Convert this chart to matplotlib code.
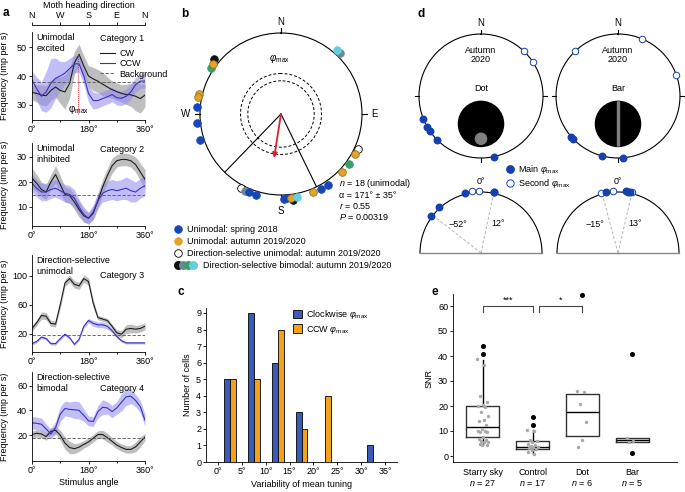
import numpy as np
import matplotlib.pyplot as plt
from matplotlib.patches import Circle, Rectangle

plt.rcParams['font.family'] = ['Liberation Sans', 'DejaVu Sans']
plt.rcParams['font.size'] = 6.5
plt.rcParams['mathtext.fontset'] = 'custom'
plt.rcParams['mathtext.rm'] = 'Liberation Sans'
plt.rcParams['mathtext.it'] = 'Liberation Sans:italic'
plt.rcParams['axes.linewidth'] = 0.6
for a in ('xtick', 'ytick'):
    plt.rcParams[a + '.major.width'] = 0.6
    plt.rcParams[a + '.major.size'] = 2
    plt.rcParams[a + '.minor.width'] = 0.6
    plt.rcParams[a + '.minor.size'] = 1.5
    plt.rcParams[a + '.major.pad'] = 1.5
    plt.rcParams[a + '.labelsize'] = 6.5

W, H = 685, 492
fig = plt.figure(figsize=(W / 100, H / 100), dpi=100)


def box(l, t, r, b):
    return [l / W, 1 - b / H, (r - l) / W, (b - t) / H]


def ptext(x, y, s, **kw):
    fig.text(x / W, 1 - y / H, s, **kw)


PHI = r'$\mathit{φ}_{\mathrm{max}}$'

# ---------------- panel a data ----------------
stim = np.arange(0, 361, 15)
cat1_cw = [34.3, 34.0, 33.4, 33.2, 35.0, 36.2, 35.0, 34.5, 37.5, 44.5, 47.5, 43.5, 40.0,
           39.0, 38.2, 37.2, 36.2, 35.3, 34.6, 34.0, 33.6, 33.5, 33.0, 32.2, 33.4]
cat1_ccw = [38.6, 35.6, 33.0, 34.5, 37.5, 39.2, 40.0, 41.0, 42.6, 44.2, 44.2, 40.0, 34.0,
            31.5, 31.5, 32.2, 32.8, 33.6, 32.5, 32.3, 33.0, 34.5, 37.0, 38.2, 38.3]
cat1_cw_sd = [2.5, 3, 3.5, 3.5, 3.5, 3.5, 4.5, 6, 5, 4, 3.5, 3.5, 3.5, 4, 4, 4, 3.5, 3, 3, 3,
              3.5, 4, 5, 5, 4]
cat1_ccw_sd = [3, 4, 5, 7, 8.5, 7, 5, 4, 3.5, 3, 3, 3, 3, 3, 2.5, 2.5, 2.5, 2.5, 2.5, 2.5,
               2.5, 2.5, 2.5, 2.5, 2.5]
cat2_cw = [21.5, 19.5, 17.0, 16.0, 20.0, 23.0, 19.0, 15.0, 14.5, 12.0, 9.0, 6.5, 5.5, 7.5,
           12.5, 18.0, 22.5, 26.5, 28.5, 29.0, 29.0, 28.5, 27.0, 24.0, 21.0]
cat2_ccw = [19.5, 17.5, 16.0, 16.0, 17.0, 17.5, 16.5, 15.5, 15.0, 13.5, 10.0, 7.0, 5.5, 8.0,
            12.5, 15.5, 16.5, 17.0, 16.5, 17.0, 17.5, 16.5, 16.0, 17.5, 18.5]
cat2_cw_sd = [4, 3.5, 3, 3, 3, 3.5, 3.5, 3, 3, 3, 3, 2.5, 2, 2.5, 3, 3, 3, 3, 2.5, 2.5, 2.5,
              2.5, 3, 3.5, 4]
cat2_ccw_sd = [3.5, 3.5, 3.5, 3.5, 3.5, 3.5, 3.5, 3.5, 3.5, 3.5, 3, 3, 2.5, 3, 3, 3.5, 4, 4,
               4, 4, 4.5, 4.5, 4, 4, 4]
cat3_cw = [27, 35, 45, 44, 34, 33, 60, 90, 96, 88, 86, 96, 92, 62, 42, 40, 38, 30, 21, 19,
           26, 27, 26, 27, 30]
cat3_ccw = [6, 9, 15, 13, 6, 6, 13, 19, 14, 5, 12, 30, 38, 34, 32, 32, 30, 24, 16, 10, 7, 7,
            7, 7, 7]
cat3_cw_sd = [4, 4, 5, 5, 4, 4, 5, 5, 5, 5, 5, 5, 5, 5, 3, 3, 3, 3, 4, 5, 6, 6, 5, 5, 5]
cat3_ccw_sd = [2, 2, 2, 2, 2, 2, 2, 2, 2, 2, 2, 3, 3, 4, 4, 4, 4, 3, 2, 2, 1.5, 1.5, 1.5,
               1.5, 1.5]
cat4_cw = [20.5, 21.5, 21, 18.8, 23, 24, 20, 13.5, 10, 9, 10.3, 12.5, 14.5, 17.5, 20.5, 20.5,
           18, 15, 12, 10, 8.5, 8.5, 10.5, 14.5, 18.5]
cat4_ccw = [30, 29.5, 28.8, 25, 21, 26, 37, 41.5, 40.8, 40.5, 40, 36, 31.5, 31, 39, 42.5, 42,
            39, 42, 46.5, 51, 51.5, 48, 43, 32]
cat4_cw_sd = [3, 3, 3, 3, 3, 3, 4, 5, 5, 4, 3.5, 3, 3, 3, 3, 3.5, 3.5, 3, 3, 3, 3, 3, 4, 4, 3]
cat4_ccw_sd = [5, 5, 5, 4, 4, 5, 6, 6, 6, 7, 7, 5, 4, 4, 5, 6, 5, 5, 5, 7, 7, 6, 5, 5, 5]
backgrounds = [38, 15, 18, 17.5]
phi_max_cat1 = 145
categories = ['Category 1', 'Category 2', 'Category 3', 'Category 4']
cell_types = [['Unimodal', 'excited'], ['Unimodal', 'inhibited'],
              ['Direction-selective', 'unimodal'], ['Direction-selective', 'bimodal']]

a_boxes = [(32, 32, 145, 120), (32, 143, 145, 226), (32, 255, 145, 352), (32, 372, 145, 461)]
a_ylims = [(24.8, 55.2), (2.4, 35.6), (-5.6, 128.7), (-0.9, 71)]
a_yticks = [[30, 40, 50], [10, 20, 30], [20, 60, 100], [20, 40, 60]]
a_cat_y = [0.98, 0.98, 0.83, 0.86]
cw_all = [cat1_cw, cat2_cw, cat3_cw, cat4_cw]
ccw_all = [cat1_ccw, cat2_ccw, cat3_ccw, cat4_ccw]
cw_sd_all = [cat1_cw_sd, cat2_cw_sd, cat3_cw_sd, cat4_cw_sd]
ccw_sd_all = [cat1_ccw_sd, cat2_ccw_sd, cat3_ccw_sd, cat4_ccw_sd]

CW_C, CCW_C = '#1e1e1e', '#3a30c0'
for i in range(4):
    ax = fig.add_axes(box(*a_boxes[i]))
    cw, ccw = np.array(cw_all[i]), np.array(ccw_all[i])
    cs, ccs = np.array(cw_sd_all[i]), np.array(ccw_sd_all[i])
    ax.fill_between(stim, cw - cs, cw + cs, color='#a8a8a8', alpha=0.75, lw=0)
    ax.fill_between(stim, ccw - ccs, ccw + ccs, color='#8f8af2', alpha=0.55, lw=0)
    ax.plot(stim, cw, color=CW_C, lw=0.8, label='CW')
    ax.plot(stim, ccw, color=CCW_C, lw=0.8, label='CCW')
    ax.axhline(backgrounds[i], color='#555555', lw=0.6, ls=(0, (4, 2)), label='Background')
    ax.set_xlim(0, 360)
    ax.set_ylim(*a_ylims[i])
    ax.set_yticks(a_yticks[i])
    ax.set_xticks([0, 180, 360], ['0°', '180°', '360°'])
    ax.set_xticks([90, 270], minor=True)
    for s in ('top', 'right'):
        ax.spines[s].set_visible(False)
    ax.set_ylabel('Frequency (imp per s)', fontsize=6.5)
    ax.yaxis.set_label_coords(-0.2, 0.5)
    for k, line in enumerate(cell_types[i]):
        ax.annotate(line, (0.04, 0.99), xycoords='axes fraction', xytext=(0, -8.2 * k),
                    textcoords='offset points', va='top', ha='left')
    ax.text(0.6, a_cat_y[i], categories[i], transform=ax.transAxes, va='top', ha='left')
    if i == 0:
        ax.legend(loc='upper left', bbox_to_anchor=(0.56, 0.86), frameon=False,
                  handlelength=1.7, handletextpad=0.5, labelspacing=0.15, borderpad=0,
                  fontsize=6.5)
        ax.vlines(phi_max_cat1, a_ylims[0][0] + 2, max(cw_all[0]), color='#e0303a',
                  lw=0.7, ls=(0, (1, 1)))
        ax.text(phi_max_cat1 + 2, 30.5, r'φ$_{\mathrm{max}}$', ha='center', va='top',
                fontsize=7)
    if i == 3:
        ax.set_xlabel('Stimulus angle', labelpad=2)

# heading direction axis
axt = fig.add_axes(box(32, 25, 145, 26))
axt.set_xlim(0, 360)
axt.set_yticks([])
axt.xaxis.tick_top()
axt.set_xticks([0, 90, 180, 270, 360], ['N', 'W', 'S', 'E', 'N'])
axt.set_xlabel('Moth heading direction', labelpad=2)
axt.xaxis.set_label_position('top')
for s in ('bottom', 'left', 'right'):
    axt.spines[s].set_visible(False)
axt.patch.set_alpha(0)

# ---------------- panel b data ----------------
b_spring_deg = [85, 96, 108, 158, 163, 182, 184, 208, 213.5]
b_autumn_deg = [54, 76, 78.5, 187, 202, 226.5, 242]
b_dsuni_deg = [152, 245.6]
b_bi_black_deg = [51, 188]
b_bi_gray_deg = [155, 316]
b_bi_green_deg = [56.7, 234]
b_bi_cyan_deg = [191, 319]
b_mean_deg, b_mean_r, b_sd_deg = 171, 0.55, 35

BLUE, ORANGE, GREEN, GRAYB, CYAN = '#1646b8', '#e3a42a', '#3a9e67', '#6e8796', '#62cfdc'

axb = fig.add_axes(box(200, 33, 362, 195), projection='polar')
axb.set_theta_zero_location('N')
axb.set_theta_direction(1)
axb.set_ylim(0, 1)
axb.grid(False)
axb.set_xticks([])
axb.set_yticks([])
axb.spines['polar'].set_linewidth(0.8)
ring = np.linspace(0, 2 * np.pi, 200)
for rr in (0.41, 0.5):
    axb.plot(ring, np.full_like(ring, rr), color='k', lw=0.7, ls=(0, (3, 2)))
for d in (b_mean_deg - b_sd_deg, b_mean_deg + b_sd_deg):
    axb.plot([np.deg2rad(d)] * 2, [0, 1], color='k', lw=0.8)
axb.annotate('', xy=(np.deg2rad(b_mean_deg), b_mean_r), xytext=(0, 0),
             arrowprops=dict(arrowstyle='-|>', color='#d8232f', lw=1.3, mutation_scale=7,
                             shrinkA=0, shrinkB=0))
for d, lab, rl in zip((0, 90, 180, 270), ('N', 'W', 'S', 'E'), (1.13, 1.18, 1.2, 1.16)):
    axb.plot([np.deg2rad(d)] * 2, [1, 1.06], color='k', lw=0.8, clip_on=False)
    axb.text(np.deg2rad(d), rl, lab, ha='center', va='center', fontsize=7)
axb.text(np.deg2rad(2), 0.68, PHI, ha='center', va='center', fontsize=7)


def polar_pts(ax, degs, r, fc, ec, s, z):
    ax.scatter(np.deg2rad(degs), np.full(len(degs), r), s=s, facecolor=fc, edgecolor=ec,
               lw=0.6, clip_on=False, zorder=z)


polar_pts(axb, b_dsuni_deg, 1.04, 'white', 'k', 30, 3)
polar_pts(axb, b_bi_black_deg, 1.07, '#111111', '#111111', 30, 4)
polar_pts(axb, b_bi_gray_deg, 1.05, GRAYB, GRAYB, 30, 4)
polar_pts(axb, b_bi_green_deg, 1.04, GREEN, GREEN, 30, 4)
polar_pts(axb, b_spring_deg, 1.045, BLUE, BLUE, 30, 5)
polar_pts(axb, b_autumn_deg, 1.04, ORANGE, '#9a7020', 30, 6)
polar_pts(axb, b_bi_cyan_deg, 1.05, CYAN, CYAN, 30, 6)

ptext(339, 183, '$n$ = 18 (unimodal)', va='center')
ptext(339, 195, 'α = 171° ± 35°', va='center')
ptext(339, 206, '$r$ = 0.55', va='center')
ptext(339, 217, '$P$ = 0.00319', va='center')

# legend of b, drawn on a full-figure overlay
axo = fig.add_axes([0, 0, 1, 1])
axo.set_xlim(0, W)
axo.set_ylim(H, 0)
axo.axis('off')
axo.patch.set_alpha(0)
leg_rows = [(229, [BLUE], [BLUE], 'Unimodal: spring 2018'),
            (241, [ORANGE], [ORANGE], 'Unimodal: autumn 2019/2020'),
            (253, ['white'], ['k'], 'Direction-selective unimodal: autumn 2019/2020')]
for y, fcs, ecs, lab in leg_rows:
    axo.scatter([178], [y], s=30, facecolor=fcs, edgecolor=ecs, lw=0.6)
    axo.text(187, y, lab, va='center')
for k, c in enumerate(['#111111', GRAYB, GREEN, CYAN]):
    axo.scatter([178 + 5 * k], [265], s=30, facecolor=c, edgecolor=c, zorder=3 + k)
axo.text(203, 265, 'Direction-selective bimodal: autumn 2019/2020', va='center')

# ---------------- panel c data ----------------
c_bins = [2.5, 7.5, 12.5, 17.5, 22.5, 27.5, 32.5]
c_cw = [5, 9, 6, 3, 0, 0, 1]
c_ccw = [5, 5, 8, 2, 4, 0, 0]

axc = fig.add_axes(box(206, 308, 397, 462))
bw = 1.25
axc.bar(np.array(c_bins) - bw / 2, c_cw, width=bw, color='#3a5bb8', edgecolor='k', lw=0.6,
        label='Clockwise ' + PHI)
axc.bar(np.array(c_bins) + bw / 2, c_ccw, width=bw, color='#f3a21c', edgecolor='k', lw=0.6,
        label='CCW ' + PHI)
axc.set_xlim(-2.5, 37.5)
axc.set_ylim(0, 9.3)
axc.set_yticks(range(10))
axc.set_xticks(range(0, 36, 5), [f'{v}°' for v in range(0, 36, 5)])
for s in ('top', 'right'):
    axc.spines[s].set_visible(False)
axc.set_ylabel('Number of cells', labelpad=3)
axc.set_xlabel('Variability of mean tuning', labelpad=3)
axc.legend(loc='upper left', bbox_to_anchor=(0.43, 1.03), frameon=False, handlelength=1.0,
           handleheight=1.0, handletextpad=0.5, labelspacing=0.3, borderpad=0, fontsize=6.5)

# ---------------- panel d data ----------------
d_dot_main = [111.6, 120, 124, 135, 192]
d_dot_second = [303, 316]
d_bar_main = [131, 134, 165, 185]
d_bar_second = [44, 290, 337]
d_dot_rel_main = [-53, -42, -15, 12, 12.5]
d_dot_rel_second = [-8, -2]
d_bar_rel_main = [-11, 7, 9, 11]
d_bar_rel_second = [-16, -5, 13]
d_dot_lims = [-52, 12]
d_bar_lims = [-15, 13]
DBLUE = '#1540b0'

for cx, stim_name, mains, seconds in ((481, 'Dot', d_dot_main, d_dot_second),
                                      (618, 'Bar', d_bar_main, d_bar_second)):
    axd = fig.add_axes(box(cx - 62, 34, cx + 62, 158), projection='polar')
    axd.set_theta_zero_location('N')
    axd.set_theta_direction(1)
    axd.set_ylim(0, 1)
    axd.grid(False)
    axd.set_xticks([])
    axd.set_yticks([])
    axd.spines['polar'].set_linewidth(0.8)
    for d in (0, 90, 180, 270):
        axd.plot([np.deg2rad(d)] * 2, [1, 1.06], color='k', lw=0.8, clip_on=False)
    axd.text(0, 1.17, 'N', ha='center', va='center', fontsize=7)
    axd.text(0.5, 0.83, 'Autumn\n2020', transform=axd.transAxes, ha='center', va='center',
             fontsize=6.5, linespacing=1.1)
    axd.text(0.5, 0.56, stim_name, transform=axd.transAxes, ha='center', va='center',
             fontsize=6.5)
    disk = Circle((0.5, 0.275), 0.182, transform=axd.transAxes, color='k', zorder=2)
    axd.add_artist(disk)
    if stim_name == 'Dot':
        axd.add_artist(Circle((0.5, 0.155), 0.045, transform=axd.transAxes,
                              color='#808080', zorder=3))
    else:
        bar = Rectangle((0.492, 0.09), 0.016, 0.37, transform=axd.transAxes,
                        color='#808080', zorder=3)
        axd.add_artist(bar)
        bar.set_clip_path(disk)
    axd.scatter(np.deg2rad(mains), np.ones(len(mains)), s=22, color=DBLUE, clip_on=False,
                zorder=5)
    axd.scatter(np.deg2rad(seconds), np.ones(len(seconds)), s=22, facecolor='white',
                edgecolor=DBLUE, lw=0.7, clip_on=False, zorder=5)

# half circles: the wedge is drawn at half the axes box, so the box is doubled
for cx, mains, seconds, lims in ((481, d_dot_rel_main, d_dot_rel_second, d_dot_lims),
                                 (618, d_bar_rel_main, d_bar_rel_second, d_bar_lims)):
    axh = fig.add_axes(box(cx - 122, 161.5, cx + 122, 283.5), projection='polar')
    axh.set_theta_zero_location('N')
    axh.set_theta_direction(-1)
    axh.set_thetamin(-90)
    axh.set_thetamax(90)
    axh.set_ylim(0, 1)
    axh.grid(False)
    axh.set_xticks([])
    axh.set_yticks([])
    axh.spines['polar'].set_linewidth(0.8)
    for s in ('start', 'end'):
        axh.spines[s].set_color('#888888')
        axh.spines[s].set_linewidth(1.0)
    axh.spines['inner'].set_visible(False)
    for d in lims:
        axh.plot([np.deg2rad(d)] * 2, [0, 1], color='#b5b5b5', lw=0.7, ls=(0, (3, 2)))
    axh.text(np.deg2rad(-40), 0.6, f'−{abs(lims[0])}°', ha='center', va='center')
    axh.text(np.deg2rad(30), 0.55, f'{lims[1]}°', ha='center', va='center')
    axh.text(0, 1.18, '0°', ha='center', va='center')
    axh.scatter(np.deg2rad(seconds), np.full(len(seconds), 1.02), s=22, facecolor='white',
                edgecolor=DBLUE, lw=0.7, clip_on=False, zorder=5)
    axh.scatter(np.deg2rad(mains), np.full(len(mains), 1.02), s=22, color=DBLUE,
                clip_on=False, zorder=6)

axo.scatter([510], [169], s=28, color=DBLUE)
axo.scatter([510], [183], s=28, facecolor='white', edgecolor=DBLUE, lw=0.7)
axo.text(518, 169, 'Main ' + PHI, va='center')
axo.text(518, 183, 'Second ' + PHI, va='center')

# ---------------- panel e data ----------------
e_labels = ['Starry sky', 'Control', 'Dot', 'Bar']
e_n = [27, 17, 6, 5]
e_q1 = [7.5, 2.8, 8.2, 5.8]
e_med = [11.5, 3.8, 17.5, 6.3]
e_q3 = [20.2, 6.2, 25.0, 7.3]
e_whislo = [4.5, 1.0, 8.2, 5.8]
e_whishi = [38.5, 10.5, 25.0, 7.3]
e_fliers = [[41, 44], [12.3, 15.5], [64.5], [41, 1.3]]
e_points = [[39, 36.5, 24, 21.5, 20.5, 20, 19.5, 17.5, 16, 14.5, 14, 12.5, 11, 10, 10, 9.5,
             9.5, 7.5, 7, 6.5, 6, 5.5, 5.5, 5, 4.5, 4.5],
            [10.5, 10, 6.5, 6, 5.5, 5, 4.5, 4, 3.8, 3.5, 3.2, 3, 2.5, 1.5, 1],
            [26, 25.5, 21, 13.5, 6.5, 3.5],
            [7.3, 6, 5.5]]
e_sig = [(1, 2, '***'), (2.12, 3, '*')]
e_sig_y = 60

axe = fig.add_axes(box(453, 294, 677, 462))
stats = [dict(med=e_med[i], q1=e_q1[i], q3=e_q3[i], whislo=e_whislo[i],
              whishi=e_whishi[i], fliers=e_fliers[i]) for i in range(4)]
pos = np.arange(1, 5)
bp = axe.bxp(stats, positions=pos, widths=0.66, showcaps=False, patch_artist=False,
             boxprops=dict(color='#333333', lw=1.0), medianprops=dict(color='k', lw=1.0),
             whiskerprops=dict(color='k', lw=1.0),
             flierprops=dict(marker='o', markerfacecolor='k', markeredgecolor='k',
                             markersize=2.6))
for fl in bp['fliers']:
    fl.set_clip_on(False)
for i, pts in enumerate(e_points):
    n = len(pts)
    jitter = ((np.arange(n) * 0.618) % 1 - 0.5) * 0.22
    axe.scatter(pos[i] + jitter, pts, s=6, color='#a8a8a8', zorder=4, lw=0)
for x0, x1, lab in e_sig:
    axe.plot([x0, x0, x1, x1], [e_sig_y - 2.5, e_sig_y, e_sig_y, e_sig_y - 2.5],
             color='#444444', lw=0.8)
    axe.text((x0 + x1) / 2, e_sig_y + 0.5, lab, ha='center', va='bottom', fontsize=6.5)
axe.set_xlim(0.4, 4.9)
axe.set_ylim(-2.4, 64.8)
axe.set_yticks(range(0, 61, 10))
axe.set_xticks(pos, [f'{l}\n$n$ = {n}' for l, n in zip(e_labels, e_n)])
axe.tick_params(axis='x', length=0, pad=4)
for s in ('top', 'right'):
    axe.spines[s].set_visible(False)
axe.set_ylabel('SNR', labelpad=3)

# panel letters
for x, y, l in ((3, 13, 'a'), (181, 14, 'b'), (177, 292, 'c'), (417, 14, 'd'),
                (432, 292, 'e')):
    ptext(x, y, l, fontsize=8.5, fontweight='bold', va='center')

fig.savefig('out.png', dpi=100)
